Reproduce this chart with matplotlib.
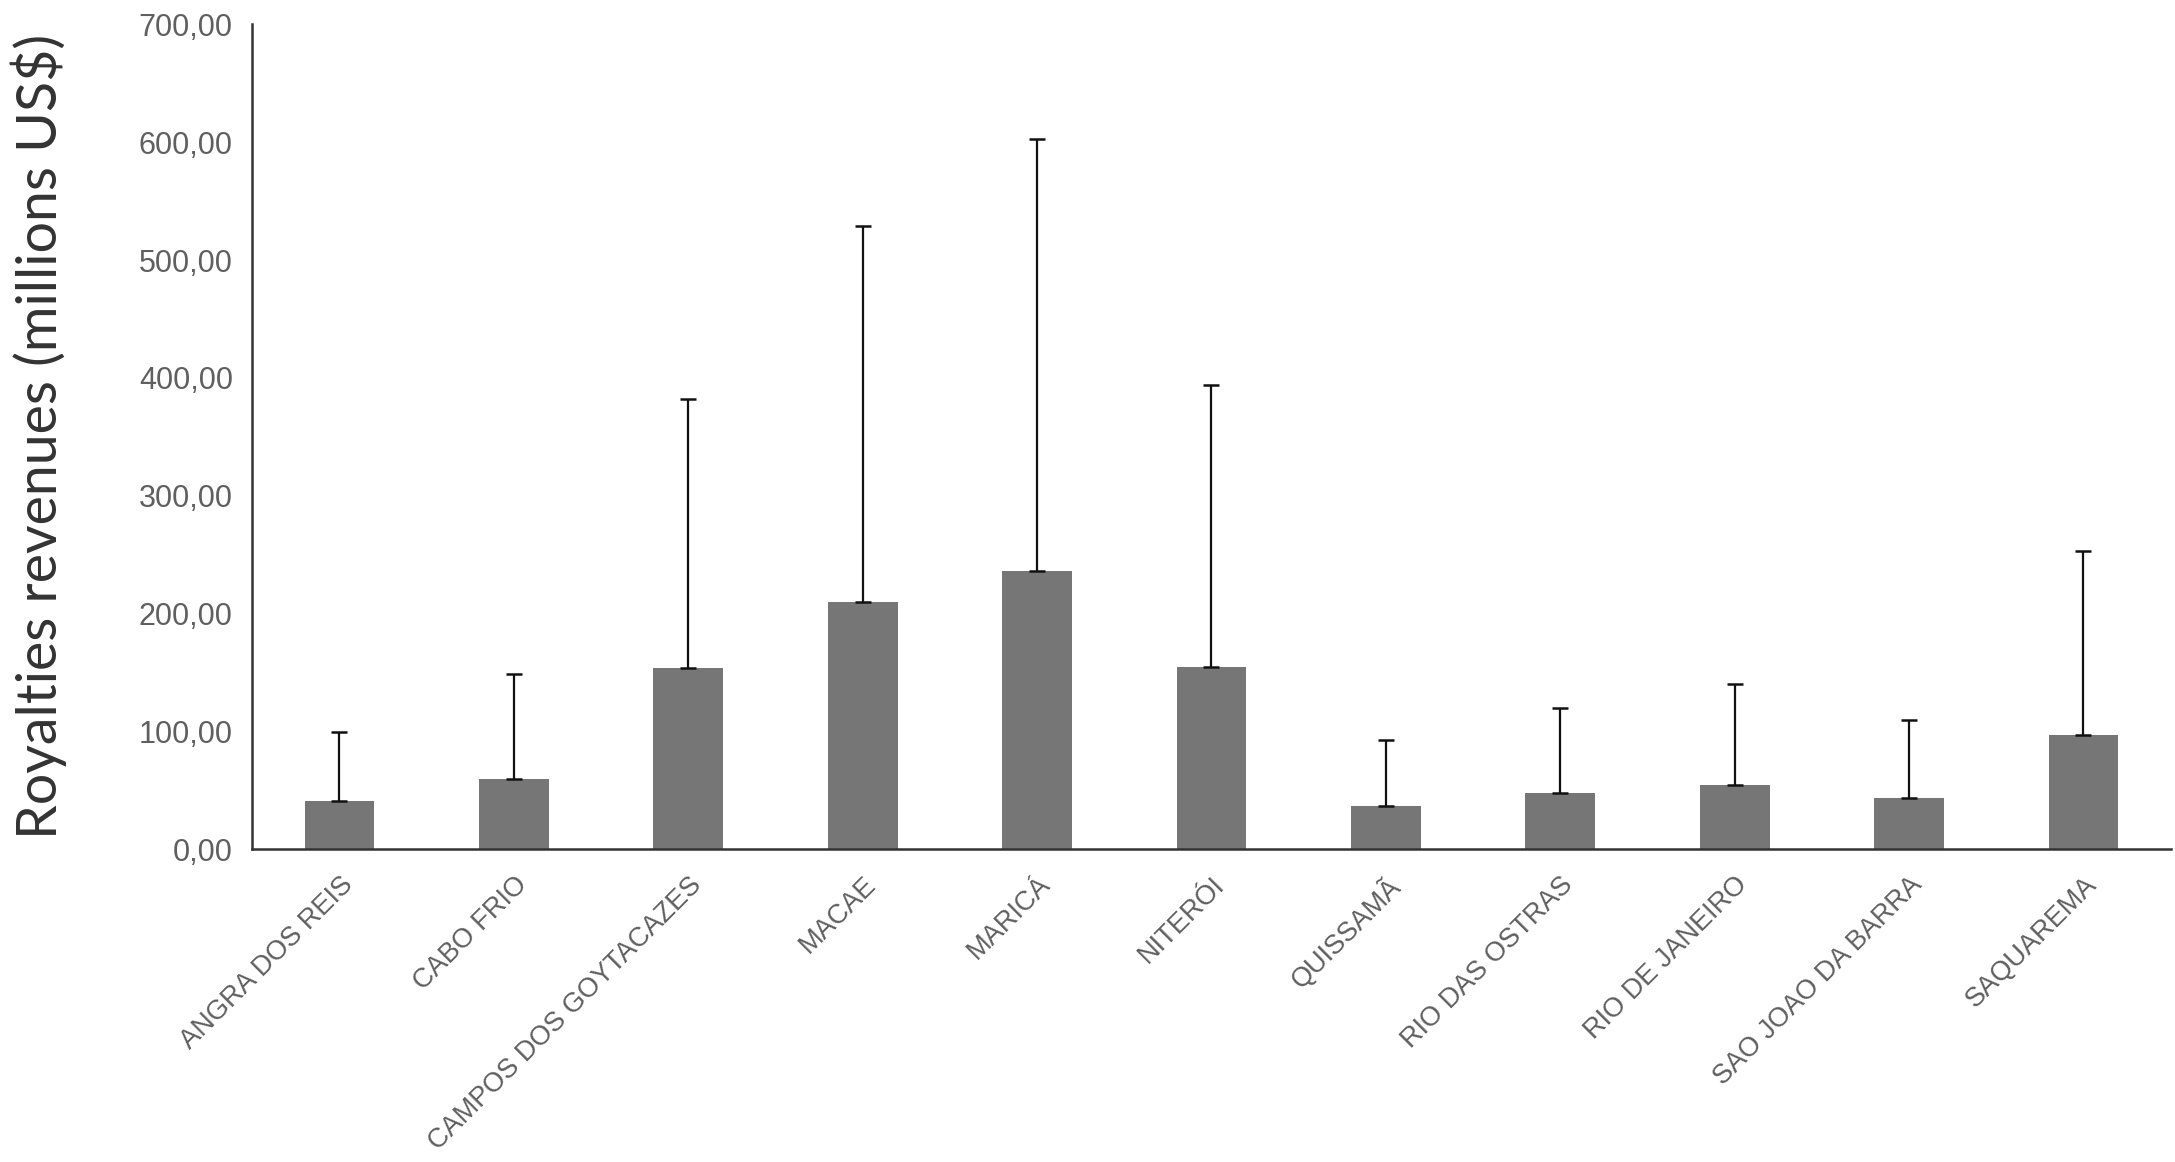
import matplotlib
matplotlib.use("Agg")
import matplotlib.pyplot as plt
import numpy as np

municipalities = ["ANGRA DOS REIS", "CABO FRIO", "CAMPOS DOS GOYTACAZES", "MACAE", "MARICÁ",
                  "NITERÓI", "QUISSAMÃ", "RIO DAS OSTRAS", "RIO DE JANEIRO", "SAO JOAO DA BARRA",
                  "SAQUAREMA"]
mean_revenue = [41, 60, 154, 210, 236, 155, 37, 48, 55, 44, 97]
sd_revenue = [59, 89, 228, 319, 367, 239, 56, 72, 85, 66, 156]
y_ticks = [0, 100, 200, 300, 400, 500, 600, 700]

fig = plt.figure(figsize=(21.75, 11.62), dpi=100)
ax = fig.add_axes([0.116, 0.269, 0.882, 0.710])

x = np.arange(len(municipalities))
ax.bar(x, mean_revenue, width=0.4, color="#767676", zorder=2)
ax.errorbar(x, mean_revenue, yerr=[np.zeros(len(sd_revenue)), sd_revenue], fmt="none",
            ecolor="#111111", elinewidth=1.6, capsize=6, capthick=1.8, zorder=3)

ax.set_xlim(-0.5, len(municipalities) - 0.5)
ax.set_ylim(0, 700)
ax.set_yticks(y_ticks)
ax.set_yticklabels([f"{v:,.2f}".replace(".", ",") for v in y_ticks],
                   fontsize=22, color="#5f5f5f", family="Liberation Sans")
ax.set_xticks(x)
ax.set_xticklabels(municipalities, rotation=45, ha="right", rotation_mode="anchor",
                   fontsize=19.5, color="#5f5f5f", family="Liberation Sans")
ax.tick_params(axis="both", length=0)
ax.tick_params(axis="y", pad=14)
ax.tick_params(axis="x", pad=16)

for s in ["top", "right"]:
    ax.spines[s].set_visible(False)
for s in ["left", "bottom"]:
    ax.spines[s].set_linewidth(1.8)
    ax.spines[s].set_color("#333333")

ax.set_ylabel("Royalties revenues (millions US$)", fontsize=40, family="Lato",
              color="#333333", labelpad=52)

fig.savefig("out.png", dpi=100, facecolor="white")
